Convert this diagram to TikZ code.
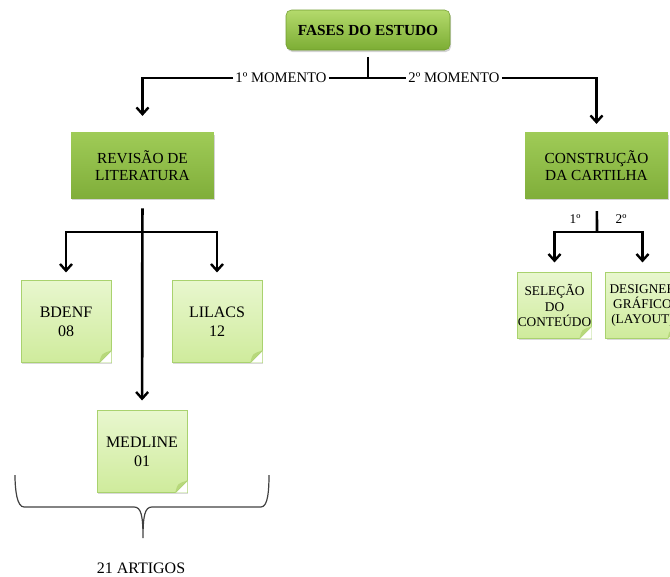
\documentclass[tikz,border=0pt]{standalone}
\usepackage{fontspec}
\setmainfont{Liberation Serif}
\usetikzlibrary{arrows.meta,shadows}

\definecolor{fasetop}{HTML}{B4DA6C}
\definecolor{fasebot}{HTML}{7CAD34}
\definecolor{etapatop}{HTML}{9FCB57}
\definecolor{etapabot}{HTML}{80AE3A}
\definecolor{notatop}{HTML}{E8F7CE}
\definecolor{notabot}{HTML}{CFEB9C}
\definecolor{notaborda}{HTML}{A9D26E}
\definecolor{notadobra}{HTML}{B7D87B}

\tikzset{
  fase/.style={rectangle, rounded corners=4pt, top color=fasetop, bottom color=fasebot,
    draw=fasebot!90!black, line width=0.4pt, inner sep=0pt,
    minimum width=123pt, minimum height=30pt,
    font=\fontsize{11.5}{13}\selectfont\bfseries,
    drop shadow={opacity=0.35, shadow xshift=0.8pt, shadow yshift=-1.5pt}},
  etapa/.style={rectangle, top color=etapatop, bottom color=etapabot, draw=none,
    inner sep=0pt, minimum width=107pt, minimum height=49pt, align=center,
    font=\fontsize{11.5}{12.5}\selectfont,
    drop shadow={opacity=0.35, shadow xshift=0.8pt, shadow yshift=-1.5pt}},
  nota/.style={rectangle, top color=notatop, bottom color=notabot, draw=notaborda,
    line width=0.6pt, inner sep=0pt, minimum width=67.5pt, minimum height=61pt,
    align=center, font=\fontsize{12}{14}\selectfont,
    drop shadow={opacity=0.3, shadow xshift=0.8pt, shadow yshift=-1.2pt}},
  notinha/.style={nota, minimum width=55pt, minimum height=49pt,
    font=\fontsize{10}{11.5}\selectfont},
  linha/.style={line width=2pt},
  seta/.style={line width=2pt, -{Straight Barb[length=5pt, width=9pt, line width=1.8pt]}},
  rotulo/.style={fill=white, inner sep=1.5pt, font=\fontsize{11}{13}\selectfont},
  ordem/.style={inner sep=0pt, font=\fontsize{10}{12}\selectfont}
}

% canto dobrado das notas
\newcommand{\dobra}[1]{%
  \path (#1.south east) ++(-12,0) coordinate (#1-a);
  \path (#1.south east) ++(0,-12) coordinate (#1-b);
  \path (#1.south east) ++(-10,-9) coordinate (#1-c);
  \fill[white] (#1-a) -- (#1.south east) -- (#1-b) -- cycle;
  \draw[notaborda, line width=0.6pt] (#1-a) -- (#1-b);
  \fill[notadobra] (#1-a) .. controls (#1-c) .. (#1-b) -- cycle;
}

\begin{document}
\begin{tikzpicture}[x=0.75pt, y=-0.75pt]
  \useasboundingbox (0,0) rectangle (670,576);

  \node[fase] (fases) at (368,30) {FASES DO ESTUDO};
  \node[etapa] (rev) at (142.5,165.5) {REVISÃO DE\\LITERATURA};
  \node[etapa] (cons) at (596.5,165.5) {CONSTRUÇÃO\\DA CARTILHA};

  \node[nota] (bdenf) at (66,321.5) {BDENF\\08};
  \node[nota] (lilacs) at (217,321.5) {LILACS\\12};
  \node[nota] (medline) at (142,451.5) {MEDLINE\\01};
  \node[notinha] (sel) at (554.5,305.5) {SELEÇÃO\\DO\\CONTEÚDO};
  \node[notinha] (des) at (642.5,305.5) {DESIGNER\\GRÁFICO\\(LAYOUT)};
  \dobra{bdenf}
  \dobra{lilacs}
  \dobra{medline}
  \dobra{sel}
  \dobra{des}

  % momentos
  \coordinate (jt) at (368,78);
  \node[rotulo] (m1) at (281,78) {1º MOMENTO};
  \node[rotulo] (m2) at (454,78) {2º MOMENTO};
  \draw[linha, shorten <=5pt] (fases) -- (jt);
  \draw[linha] (m1) -- (m2);
  \draw[seta, shorten >=12.5pt] (m1) -| (rev);
  \draw[seta, shorten >=6.5pt] (m2) -| (cons);

  % bases de dados
  \coordinate (jr) at (142,232);
  \draw[seta, shorten <=7.5pt, shorten >=7.5pt] (rev) -- (medline);
  \draw[seta, shorten >=6pt] (jr) -| (bdenf);
  \draw[seta, shorten >=6pt] (jr) -| (lilacs);

  % etapas da cartilha
  \coordinate (jc) at (597,232);
  \draw[linha, shorten <=9.5pt] (cons) -- (jc);
  \draw[seta, shorten >=7.5pt] (jc) -| (sel);
  \draw[seta, shorten >=7.5pt] (jc) -| (des);
  \node[ordem] (p1) at (575,219) {1º};
  \node[ordem] (p2) at (621,219) {2º};

  % chave
  \draw[black!75, line width=0.9pt]
    (15,475) .. controls (15,490) and (17,507) .. (24,507) -- (134,507)
    .. controls (141,507) and (143,515) .. (143,538)
    .. controls (143,515) and (145,507) .. (152,507) -- (261,507)
    .. controls (268,507) and (269,490) .. (269,475);
  \node[font=\fontsize{12}{14}\selectfont] (artigos) at (141,568) {21 ARTIGOS};
\end{tikzpicture}
\end{document}
